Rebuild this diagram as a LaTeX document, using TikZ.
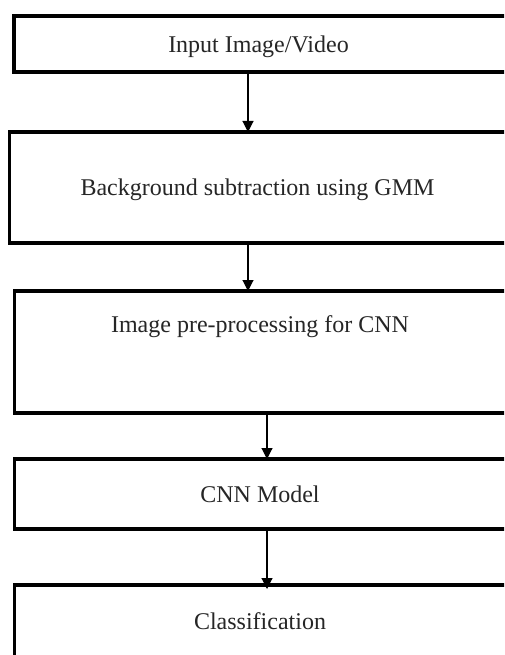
\documentclass[tikz,border=0pt]{standalone}
\usepackage{fontspec}
\setmainfont{Liberation Serif}
\usetikzlibrary{arrows.meta}
\begin{document}
\begin{tikzpicture}[x=1pt,y=-1pt,
  box/.style={draw=black,line width=3.8pt,fill=none,inner sep=0pt,outer sep=0pt,anchor=north west},
  lbl/.style={font=\fontsize{24}{28}\selectfont,inner sep=0pt,anchor=base,text=black!85},
  arr/.style={line width=1.1pt,-{Triangle[width=11pt,length=11pt]}}]
\useasboundingbox (0,0) rectangle (504,655);
\clip (0,0) rectangle (504,655);
\fill[white] (0,0) rectangle (504,655);
% boxes
\node[box,minimum width=510pt,minimum height=56pt] (b1) at (14,16) {};
\node[box,minimum width=515pt,minimum height=111pt] (b2) at (9.5,132) {};
\node[box,minimum width=510pt,minimum height=122pt] (b3) at (14.5,291) {};
\node[box,minimum width=510pt,minimum height=70pt] (b4) at (14.5,459) {};
\node[box,minimum width=510pt,minimum height=120pt] (b5) at (14.5,585) {};
% texts
\node[lbl] (t1) at (258.5,53) {Input Image/Video};
\node[lbl] (t2) at (257.5,195) {Background subtraction using GMM};
\node[lbl] (t3) at (260,332) {Image pre-processing for CNN};
\node[lbl] (t4) at (260,502) {CNN Model};
\node[lbl] (t5) at (260,629) {Classification};
% arrow columns
\coordinate (c1) at (248,0);
\coordinate (c2) at (267,0);
% arrows
\draw[arr] (b1.south -| c1) -- (b2.north -| c1);
\draw[arr] (b2.south -| c1) -- (b3.north -| c1);
\draw[arr] (b3.south -| c2) -- (b4.north -| c2);
\draw[arr] (b4.south -| c2) -- ([yshift=-4pt]b5.north -| c2);
\end{tikzpicture}
\end{document}
